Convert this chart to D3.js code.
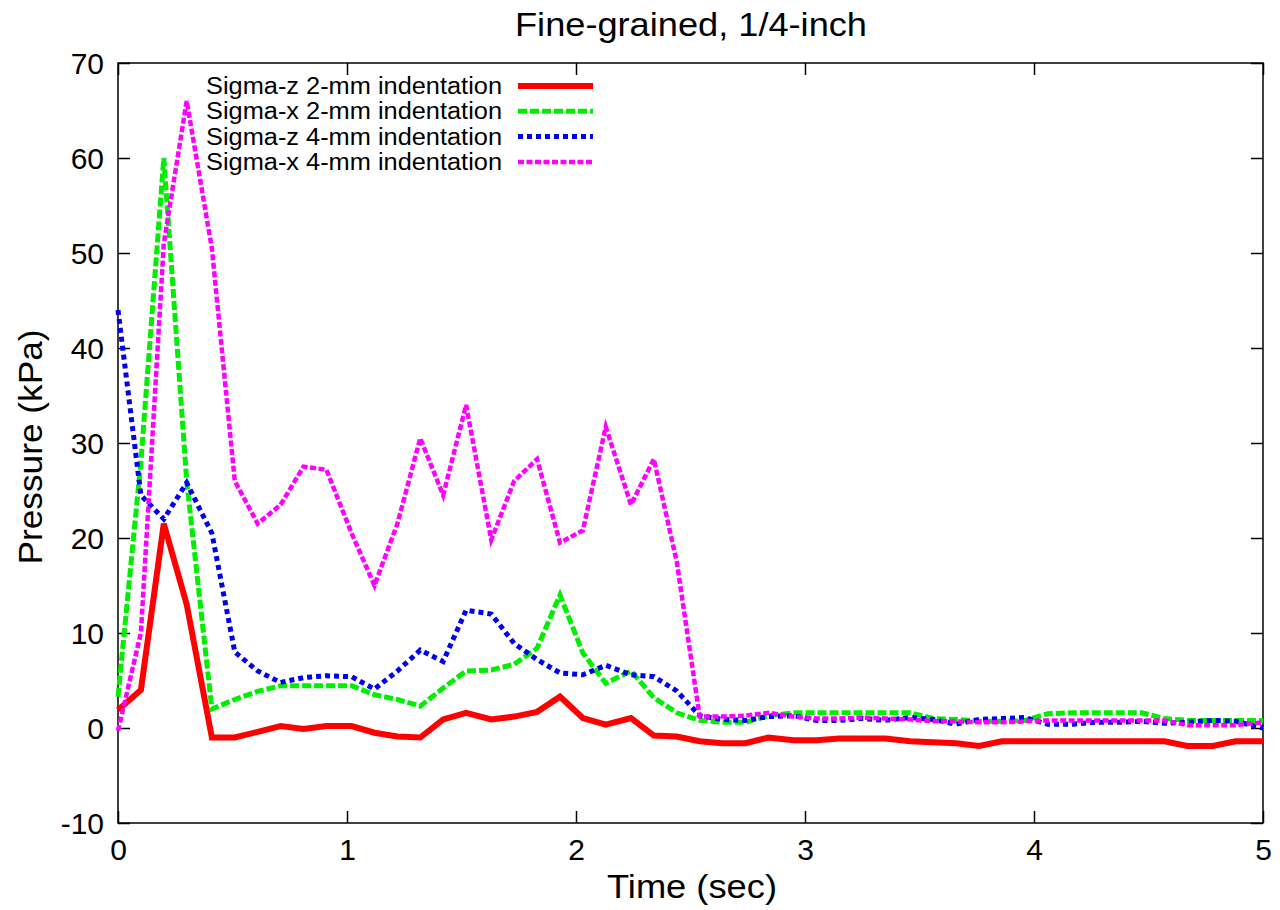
<!DOCTYPE html>
<html>
<head>
<meta charset="utf-8">
<script src="https://cdn.jsdelivr.net/npm/d3@7"></script>
<style>
  body { margin: 0; background: #fff; }
  text { font-family: "Liberation Sans", Arial, sans-serif; fill: #000; }
</style>
</head>
<body>
<div class="plot1"></div>
<script>
// Pressure vs time, fine-grained 1/4-inch

// step 1: data
var times = [0.00, 0.10, 0.20, 0.30, 0.41, 0.51, 0.61, 0.71, 0.81, 0.91,
             1.02, 1.12, 1.22, 1.32, 1.42, 1.52, 1.63, 1.73, 1.83, 1.93,
             2.03, 2.13, 2.24, 2.34, 2.44, 2.54, 2.64, 2.74, 2.84, 2.95,
             3.05, 3.15, 3.25, 3.35, 3.46, 3.56, 3.66, 3.76, 3.86, 3.96,
             4.06, 4.17, 4.27, 4.37, 4.47, 4.57, 4.67, 4.78, 4.88, 5.00];

var sigmaZ2 = [1.9, 4, 21.5, 13, -1, -1, -0.4, 0.2, -0.1, 0.2,
               0.2, -0.5, -0.9, -1.0, 0.9, 1.6, 0.9, 1.2, 1.7, 3.3,
               1.05, 0.35, 1.05, -0.8, -0.9, -1.4, -1.6, -1.6, -1.0, -1.3,
               -1.3, -1.1, -1.1, -1.1, -1.4, -1.5, -1.6, -1.9, -1.4, -1.4,
               -1.4, -1.4, -1.4, -1.4, -1.4, -1.4, -1.9, -1.9, -1.4, -1.4];

var sigmaX2 = [3.3, 28, 60, 26, 2.0, 3.0, 3.85, 4.45, 4.45, 4.45,
               4.45, 3.5, 3.0, 2.3, 4.2, 6.0, 6.1, 6.7, 8.4, 14.0,
               7.9, 4.7, 6.0, 3.2, 1.6, 0.8, 0.6, 0.6, 1.3, 1.6,
               1.6, 1.6, 1.6, 1.6, 1.6, 1.0, 0.9, 0.7, 0.7, 0.8,
               1.5, 1.6, 1.6, 1.6, 1.6, 1.0, 0.8, 0.8, 0.8, 0.8];

var sigmaZ4 = [44, 24.5, 22, 25.8, 20.5, 8, 6, 4.8, 5.3, 5.5,
               5.4, 4.1, 6.0, 8.2, 7.0, 12.4, 12.0, 8.9, 7.2, 5.8,
               5.6, 6.6, 5.6, 5.4, 3.9, 1.3, 0.9, 0.8, 1.2, 1.3,
               0.8, 0.8, 1.0, 0.8, 1.1, 0.9, 0.4, 0.9, 1.0, 1.1,
               0.4, 0.4, 0.6, 0.6, 0.7, 0.5, 0.6, 0.8, 0.7, 0.0];

var sigmaX4 = [-0.3, 10, 51, 66, 50.5, 26, 21.5, 23.5, 27.5, 27.2,
               20.5, 15, 21.5, 30.5, 24.5, 34, 19.8, 26, 28.3, 19.5,
               20.8, 31.7, 23.5, 28.3, 17.5, 1.2, 1.2, 1.3, 1.6, 1.2,
               1.0, 1.0, 1.1, 1.0, 0.9, 0.7, 0.7, 0.6, 0.6, 0.7,
               0.8, 0.8, 0.8, 0.8, 0.8, 0.8, 0.3, 0.3, 0.3, 0.6];

var seriesNames = ["Sigma-z 2-mm indentation", "Sigma-x 2-mm indentation",
                   "Sigma-z 4-mm indentation", "Sigma-x 4-mm indentation"];
var xTicks = [0, 1, 2, 3, 4, 5];
var yTicks = [-10, 0, 10, 20, 30, 40, 50, 60, 70];

// step 2: set up the chart
var svgWidth = 1280;
var svgHeight = 910;

var margin = {
    top: 63,
    right: 17,
    bottom: 87,
    left: 118
    };

var width = svgWidth - margin.left - margin.right;
var height = svgHeight - margin.top - margin.bottom;

var svg = d3.select(".plot1")
.append("svg")
.attr("width", svgWidth)
.attr("height", svgHeight);

var chartGroup = svg.append("g")
.attr("transform", `translate(${margin.left}, ${margin.top})`);

// step 3: scales
var xLinearScale = d3.scaleLinear()
                        .domain([0, 5])
                        .range([0, width]);

var yLinearScale = d3.scaleLinear()
                        .domain([-10, 70])
                        .range([height, 0]);

// step 4: axes, ticks point inward and are mirrored on top/right
// plain hyphen for negatives, like the original
var plainFormat = d => String(d);

var bottomAxis = d3.axisBottom(xLinearScale).tickValues(xTicks).tickSizeInner(-12).tickSizeOuter(0).tickPadding(12).tickFormat(plainFormat);
var leftAxis = d3.axisLeft(yLinearScale).tickValues(yTicks).tickSizeInner(-12).tickSizeOuter(0).tickPadding(14).tickFormat(plainFormat);
var topAxis = d3.axisTop(xLinearScale).tickValues(xTicks).tickSizeInner(-12).tickSizeOuter(0).tickFormat("");
var rightAxis = d3.axisRight(yLinearScale).tickValues(yTicks).tickSizeInner(-12).tickSizeOuter(0).tickFormat("");

var gx = chartGroup.append("g")
.attr("transform", `translate(0, ${height})`)
.call(bottomAxis);

var gy = chartGroup.append("g")
.call(leftAxis);

chartGroup.append("g").call(topAxis);
chartGroup.append("g").attr("transform", `translate(${width}, 0)`).call(rightAxis);

chartGroup.selectAll(".domain").remove();
chartGroup.selectAll(".tick line").attr("stroke", "#000").attr("stroke-width", 1.5);

gx.selectAll("text")
.style("font-size", "30px")
.attr("dy", "0.71em")
.attr("y", 16);

gy.selectAll("text")
.style("font-size", "30px")
.attr("dy", "0.35em");

// frame
chartGroup.append("rect")
.attr("width", width)
.attr("height", height)
.attr("fill", "none")
.attr("stroke", "#000")
.attr("stroke-width", 1.5);

// step 5: lines
var styles = [
    {color: "#ff0000", width: 6, dash: null},
    {color: "#00ee00", width: 5, dash: "9,3"},
    {color: "#0000ee", width: 5, dash: "5,4"},
    {color: "#ff00ff", width: 4.5, dash: "6,2.5"}
];
var allSeries = [sigmaZ2, sigmaX2, sigmaZ4, sigmaX4];

var line = d3.line()
.x((d, i) => xLinearScale(times[i]))
.y(d => yLinearScale(d));

allSeries.forEach((s, k) => {
    chartGroup.append("path")
    .datum(s)
    .attr("d", line)
    .attr("fill", "none")
    .attr("stroke", styles[k].color)
    .attr("stroke-width", styles[k].width)
    .attr("stroke-linejoin", "miter")
    .attr("stroke-dasharray", styles[k].dash);
});

// step 6: legend
var legend = svg.append("g");
seriesNames.forEach((name, k) => {
    var ly = 86 + k * 25.3;
    legend.append("text")
    .attr("x", 502)
    .attr("y", ly)
    .attr("dy", "0.35em")
    .attr("text-anchor", "end")
    .attr("textLength", 296)
    .attr("lengthAdjust", "spacingAndGlyphs")
    .style("font-size", "23px")
    .text(name);
    legend.append("line")
    .attr("x1", 518)
    .attr("x2", 593)
    .attr("y1", ly)
    .attr("y2", ly)
    .attr("stroke", styles[k].color)
    .attr("stroke-width", styles[k].width)
    .attr("stroke-dasharray", styles[k].dash);
});

// step 7: title and axis labels
svg.append("text")
.attr("x", 691)
.attr("y", 36)
.attr("text-anchor", "middle")
.attr("textLength", 352)
.attr("lengthAdjust", "spacingAndGlyphs")
.style("font-size", "34px")
.text("Fine-grained, 1/4-inch");

svg.append("text")
.attr("x", 692)
.attr("y", 898)
.attr("text-anchor", "middle")
.attr("textLength", 170)
.attr("lengthAdjust", "spacingAndGlyphs")
.style("font-size", "34px")
.text("Time (sec)");

svg.append("text")
.attr("transform", "translate(42, 447) rotate(-90)")
.attr("text-anchor", "middle")
.attr("textLength", 235)
.attr("lengthAdjust", "spacingAndGlyphs")
.style("font-size", "34px")
.text("Pressure (kPa)");
</script>
</body>
</html>
